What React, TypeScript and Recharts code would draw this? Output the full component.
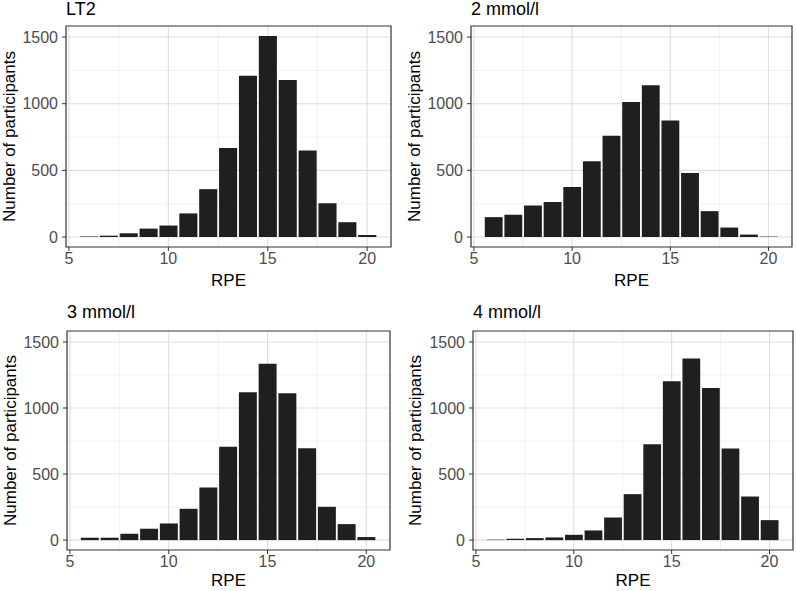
import { BarChart, Bar, XAxis, YAxis, CartesianGrid, ReferenceArea } from "recharts";

const RPE = [6, 7, 8, 9, 10, 11, 12, 13, 14, 15, 16, 17, 18, 19, 20];

const LT2_COUNTS = [4, 10, 28, 63, 86, 177, 359, 667, 1210, 1508, 1177, 649, 253, 111, 15];
const MMOL2_COUNTS = [149, 167, 237, 263, 376, 568, 760, 1013, 1139, 874, 480, 194, 71, 18, 3];
const MMOL3_COUNTS = [18, 18, 48, 86, 126, 237, 398, 706, 1119, 1336, 1112, 696, 252, 121, 23];
const MMOL4_COUNTS = [3, 10, 15, 20, 40, 73, 171, 348, 726, 1202, 1374, 1152, 693, 330, 151];

const X_TICKS = [5, 10, 15, 20];
const X_MINOR = [7.5, 12.5, 17.5];
const Y_TICKS = [0, 500, 1000, 1500];
const Y_MINOR = [250, 750, 1250];

const X_DOMAIN: [number, number] = [4.85, 21.2];
const Y_DOMAIN: [number, number] = [-75, 1583];

const FONT = "'Liberation Sans', Arial, Helvetica, sans-serif";

interface PanelProps {
  title: string;
  counts: number[];
  left: number;
  top: number;
  width: number;
  height: number;
  margin: { top: number; right: number; bottom: number; left: number };
  yAxisWidth: number;
  xAxisHeight: number;
  xLabelDy: number;
  titleTop: number;
}

function Panel({ title, counts, left, top, width, height, margin, yAxisWidth, xAxisHeight, xLabelDy, titleTop }: PanelProps) {
  const data = RPE.map((rpe, i) => ({ rpe, count: counts[i] }));
  const plotWidth = width - margin.left - margin.right - yAxisWidth;
  // one RPE unit in pixels, minus the white gap ggplot leaves between bins
  const barSize = plotWidth / (X_DOMAIN[1] - X_DOMAIN[0]) - 1.8;
  const tickStyle = { fontSize: 16, fill: "#4d4d4d", fontFamily: FONT };

  return (
    <div style={{ position: "absolute", left, top, width, height }}>
      <div
        style={{
          position: "absolute",
          left: margin.left + yAxisWidth,
          top: titleTop,
          fontFamily: FONT,
          fontSize: 18,
          lineHeight: "20px",
          color: "#000",
          whiteSpace: "nowrap",
        }}
      >
        {title}
      </div>
      <BarChart width={width} height={height} data={data} margin={margin} barCategoryGap={0}>
        <CartesianGrid
          stroke="#ebebeb"
          strokeWidth={0.7}
          horizontalValues={Y_MINOR}
          verticalValues={X_MINOR}
        />
        <CartesianGrid
          stroke="#dedede"
          strokeWidth={1.1}
          horizontalValues={Y_TICKS}
          verticalValues={X_TICKS}
        />
        <XAxis
          dataKey="rpe"
          type="number"
          domain={X_DOMAIN}
          ticks={X_TICKS}
          allowDataOverflow
          axisLine={false}
          tickLine={{ stroke: "#333333" }}
          tickSize={4}
          tickMargin={2}
          tick={tickStyle}
          height={xAxisHeight}
          label={{
            value: "RPE",
            position: "center",
            dy: xLabelDy,
            style: { fontSize: 17, fill: "#000", fontFamily: FONT },
          }}
        />
        <YAxis
          type="number"
          domain={Y_DOMAIN}
          ticks={Y_TICKS}
          allowDataOverflow
          axisLine={false}
          tickLine={{ stroke: "#333333" }}
          tickSize={4}
          tickMargin={4}
          tick={tickStyle}
          width={yAxisWidth}
          label={{
            value: "Number of participants",
            angle: -90,
            position: "center",
            dx: -24,
            style: { fontSize: 17, fill: "#000", fontFamily: FONT, textAnchor: "middle" },
          }}
        />
        <Bar
          dataKey="count"
          fill="#1f1f1f"
          barSize={barSize}
          isAnimationActive={false}
        />
        <ReferenceArea
          x1={X_DOMAIN[0]}
          x2={X_DOMAIN[1]}
          y1={Y_DOMAIN[0]}
          y2={Y_DOMAIN[1]}
          fill="none"
          fillOpacity={0}
          stroke="#333333"
          strokeWidth={1.2}
          ifOverflow="visible"
        />
      </BarChart>
    </div>
  );
}

export default function App() {
  return (
    <div style={{ position: "absolute", left: 0, top: 0, width: 797, height: 591, background: "#ffffff", overflow: "hidden" }}>
      <Panel
        title="LT2"
        counts={LT2_COUNTS}
        left={0}
        top={0}
        width={398}
        height={295}
        margin={{ top: 26, right: 7, bottom: 4, left: 0 }}
        yAxisWidth={66}
        xAxisHeight={44}
        xLabelDy={11}
        titleTop={-1}
      />
      <Panel
        title="2 mmol/l"
        counts={MMOL2_COUNTS}
        left={405}
        top={0}
        width={392}
        height={295}
        margin={{ top: 26, right: 5, bottom: 4, left: 0 }}
        yAxisWidth={66}
        xAxisHeight={44}
        xLabelDy={11}
        titleTop={-1}
      />
      <Panel
        title="3 mmol/l"
        counts={MMOL3_COUNTS}
        left={0}
        top={300}
        width={398}
        height={291}
        margin={{ top: 31, right: 8, bottom: 1, left: 0 }}
        yAxisWidth={67}
        xAxisHeight={40}
        xLabelDy={10}
        titleTop={2}
      />
      <Panel
        title="4 mmol/l"
        counts={MMOL4_COUNTS}
        left={405}
        top={300}
        width={392}
        height={291}
        margin={{ top: 31, right: 4, bottom: 1, left: 0 }}
        yAxisWidth={68}
        xAxisHeight={40}
        xLabelDy={10}
        titleTop={2}
      />
    </div>
  );
}
